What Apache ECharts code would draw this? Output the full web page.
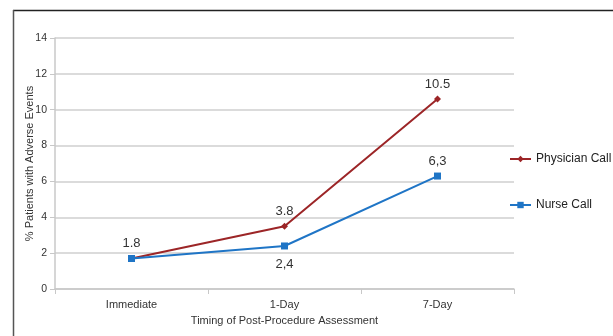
<!DOCTYPE html>
<html><head><meta charset="utf-8">
<script src="https://cdn.jsdelivr.net/npm/echarts@6/dist/echarts.min.js"></script>
<style>html,body{margin:0;padding:0;background:#fff}#c{width:613px;height:336px}</style>
</head><body><div id="c"></div>
<script>
const categories = ['Immediate', '1-Day', '7-Day'];
const physicianValues = [1.7, 3.5, 10.6];
const nurseValues = [1.7, 2.4, 6.3];
const physicianLabels = ['1.8', '3.8', '10.5'];
const nurseLabels = ['', '2,4', '6,3'];
const yTicks = [0, 2, 4, 6, 8, 10, 12, 14];

const chart = echarts.init(document.getElementById('c'), null, {renderer: 'canvas'});
const font = 'Liberation Sans, Arial, sans-serif';
chart.setOption({
  animation: false,
  textStyle: {fontFamily: font},
  grid: {left: 55, right: 99, top: 38, bottom: 47},
  legend: {
    orient: 'vertical', left: 509, top: 153, itemGap: 34, padding: 0,
    itemWidth: 21, itemHeight: 8,
    textStyle: {fontSize: 12, color: '#222', fontFamily: font},
    data: ['Physician Call', 'Nurse Call']
  },
  xAxis: {
    type: 'category', data: categories, boundaryGap: true,
    name: 'Timing of Post-Procedure Assessment', nameLocation: 'middle', nameGap: 26,
    nameTextStyle: {fontSize: 11, color: '#333'},
    axisLine: {lineStyle: {color: '#c8c8c8', width: 1.5}},
    axisTick: {show: true, length: 5, lineStyle: {color: '#c8c8c8'}},
    axisLabel: {fontSize: 11, color: '#333', margin: 10}
  },
  yAxis: {
    type: 'value', min: 0, max: 14, interval: 2,
    name: '% Patients with Adverse Events', nameLocation: 'middle', nameGap: 20,
    nameMoveOverlap: false,
    nameTextStyle: {fontSize: 11, color: '#333'},
    axisLine: {show: true, lineStyle: {color: '#c8c8c8', width: 1.5}},
    axisTick: {show: true, length: 5, lineStyle: {color: '#c8c8c8'}},
    axisLabel: {fontSize: 10.5, color: '#333', margin: 8,
      formatter: v => yTicks.includes(v) ? String(v) : ''},
    splitLine: {lineStyle: {color: '#cfcfcf', width: 1.5}}
  },
  series: [
    {
      name: 'Physician Call', type: 'line', data: physicianValues,
      symbol: 'diamond', symbolSize: 7,
      lineStyle: {color: '#9c2527', width: 2},
      itemStyle: {color: '#9c2527'},
      label: {show: true, position: 'top', distance: 5, fontSize: 13, color: '#333',
        formatter: p => physicianLabels[p.dataIndex]},
      z: 2
    },
    {
      name: 'Nurse Call', type: 'line', data: nurseValues,
      symbol: 'rect', symbolSize: 7,
      lineStyle: {color: '#1f75c6', width: 2},
      itemStyle: {color: '#1f75c6'},
      label: {show: true, fontSize: 13, color: '#333',
        position: 'top', distance: 5,
        formatter: p => nurseLabels[p.dataIndex]},
      labelLayout: p => p.dataIndex === 1 ? {dy: 33} : {},
      z: 3
    }
  ],
  graphic: [
    {type: 'line', shape: {x1: 13, y1: 10.5, x2: 613, y2: 10.5}, style: {stroke: '#222', lineWidth: 1.5}, silent: true},
    {type: 'line', shape: {x1: 13.5, y1: 10, x2: 13.5, y2: 336}, style: {stroke: '#555', lineWidth: 1.5}, silent: true}
  ]
});
</script></body></html>
